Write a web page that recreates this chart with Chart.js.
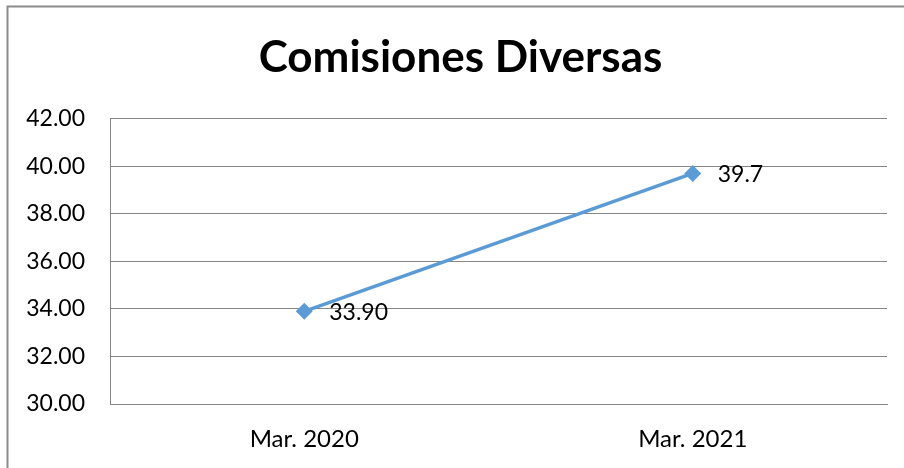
<!DOCTYPE html>
<html>
<head>
<meta charset="utf-8">
<script src="https://cdn.jsdelivr.net/npm/chart.js@4/dist/chart.umd.min.js"></script>
<style>
html,body{margin:0;padding:0;background:#fff;}
#wrap{width:904px;height:468px;}
</style>
</head>
<body>
<div id="wrap"><canvas id="c" width="904" height="468"></canvas></div>
<script>
const categories = ["Mar. 2020", "Mar. 2021"];
const values = [33.90, 39.7];
const valueLabels = ["33.90", "39.7"];
const chartTitle = "Comisiones Diversas";
const yMin = 30, yMax = 42, yStep = 2;

const FONT = 'Lato, "Liberation Sans", sans-serif';

const frame = {
  id: 'frame',
  beforeDraw(chart) {
    const ctx = chart.ctx;
    ctx.save();
    ctx.fillStyle = '#fff';
    ctx.fillRect(0, 0, chart.width, chart.height);
    ctx.strokeStyle = '#8c8c8c';
    ctx.lineWidth = 2;
    ctx.beginPath();
    ctx.moveTo(7.5, chart.height + 2);
    ctx.lineTo(7.5, 6.5);
    ctx.lineTo(chart.width + 2, 6.5);
    ctx.stroke();
    ctx.restore();
  }
};

const dataLabels = {
  id: 'dataLabels',
  afterDatasetsDraw(chart) {
    const ctx = chart.ctx;
    const meta = chart.getDatasetMeta(0);
    ctx.save();
    ctx.font = '23px ' + FONT;
    ctx.fillStyle = '#000';
    ctx.textAlign = 'left';
    ctx.textBaseline = 'middle';
    meta.data.forEach((pt, i) => {
      ctx.fillText(valueLabels[i], pt.x + 25, pt.y + 1);
    });
    ctx.restore();
  }
};

new Chart(document.getElementById('c'), {
  type: 'line',
  data: {
    labels: categories,
    datasets: [{
      data: values,
      borderColor: '#5B9BD5',
      backgroundColor: '#5B9BD5',
      borderWidth: 3.5,
      pointStyle: 'rectRot',
      pointRadius: 6,
      pointHoverRadius: 6,
      tension: 0
    }]
  },
  options: {
    responsive: false,
    animation: false,
    events: [],
    layout: { padding: { left: 17, right: 0, top: 0, bottom: 0 } },
    plugins: {
      legend: { display: false },
      tooltip: { enabled: false },
      title: {
        display: true,
        text: chartTitle,
        color: '#000',
        font: { family: FONT, size: 44, weight: 'bold', lineHeight: 1.2 },
        padding: { top: 31, bottom: 35 }
      }
    },
    scales: {
      x: {
        offset: true,
        grid: { display: false, drawTicks: false },
        border: { display: true, color: '#868686', width: 1 },
        ticks: {
          color: '#000',
          padding: 21,
          maxRotation: 0,
          font: { family: FONT, size: 24, lineHeight: 1.2 }
        },
        afterFit(scale) { scale.height = 64; }
      },
      y: {
        min: yMin,
        max: yMax,
        grid: { color: '#868686', lineWidth: 1, drawTicks: false },
        border: { display: true, color: '#868686', width: 1 },
        ticks: {
          stepSize: yStep,
          color: '#000',
          padding: 25,
          font: { family: FONT, size: 23, lineHeight: 1.2 },
          callback: (v) => Number(v).toFixed(2)
        },
        afterFit(scale) { scale.width = 93; }
      },
      yRight: {
        type: 'linear',
        position: 'right',
        min: 0,
        max: 1,
        display: true,
        grid: { display: false, drawTicks: false },
        border: { display: false },
        ticks: { display: false },
        afterFit(scale) { scale.width = 17; }
      }
    }
  },
  plugins: [frame, dataLabels]
});
</script>
</body>
</html>
